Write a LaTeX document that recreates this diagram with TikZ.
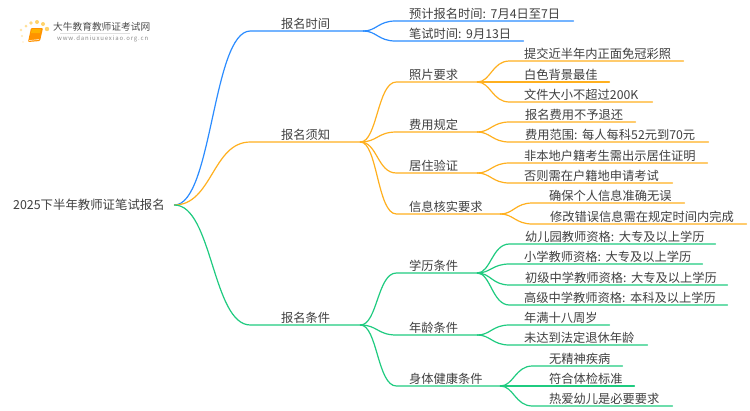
\documentclass[tikz,border=0pt]{standalone}
\usepackage{fontspec}
\setmainfont{Noto Sans CJK SC}
\usetikzlibrary{calc}
\definecolor{cblue}{HTML}{2B8CFF}
\definecolor{corange}{HTML}{FFB01F}
\definecolor{cgreen}{HTML}{1FCB80}
\definecolor{ctext}{HTML}{404040}
\definecolor{cdot}{HTML}{FFD36B}
\newcommand\tgap{\kern-1.5pt}
\tikzset{
  lf/.style={anchor=south west,inner sep=0pt,align=left,text height=11pt,text depth=2.5pt,font=\fontsize{12.25}{14}\selectfont,text=ctext},
  rootnode/.style={anchor=west,inner sep=0pt,align=left,font=\fontsize{12.4}{14}\selectfont,text=ctext},
  lnblue/.style={draw=cblue,line width=1.2pt},
  lnorange/.style={draw=corange,line width=1.2pt},
  lngreen/.style={draw=cgreen,line width=1.2pt},
  logodot/.style={fill=cdot,draw=none}
}
% from, to, style, run of the curve, first control, second control
\newcommand\conn[6]{\draw[#3,line cap=round,line join=round] let \p1=(#1), \p2=(#2.south west) in
  (\p1) .. controls ({\x1+#5pt},\y1) and ({\x1+#6pt},\y2) .. ({\x1+#4pt},\y2) -- (\p2) -- (#2.south east);}
\begin{document}
\begin{tikzpicture}[x=1pt,y=-1pt]
\useasboundingbox (0,0) rectangle (750,410);
\fill[white] (0,0) rectangle (750,410);
% logo
\foreach \px/\py/\pr/\po in {23/42/0.9/0.35,22/36/1.1/0.5,21/30/1.3/0.6,26/26/1.5/0.7,31/23/1.8/0.85,37/22/2/1,43/24/2/1,47/29/2.2/1}
  \fill[logodot,opacity=\po] (\px,\py) circle (\pr);
\fill[orange!85!yellow,rounded corners=1pt] (31,28) -- (43,28) -- (40,41) -- (28,42) -- cycle;
\fill[orange!60!yellow] (32,29) -- (41,29) -- (40,33) -- (31,33) -- cycle;
\draw[white,line width=0.5pt] (29,40.5) -- (39,39.5);
\node[inner sep=0pt,anchor=west,text=black!70,font=\fontsize{9.7}{11}\selectfont] (logotitle) at (53,27) {大牛教育教师证考试网};
\node[inner sep=0pt,anchor=west,text=black!45,font=\fontsize{6}{7}\selectfont\addfontfeature{LetterSpace=14}] (logourl) at (57,39) {www.daniuxuexiao.org.cn};
\draw[black!12,line width=0.5pt] (60,33.5) -- (130,33.5);
% root
\node[rootnode,text width=161pt] (root) at (13,205) {2025下半年教师证笔试报名};
% level 1
\node[lf,text width=82pt] (a) at (281,31) {报名时间};
\node[lf,text width=79pt] (b) at (281,142) {报名须知};
\node[lf,text width=79pt] (c) at (281,325) {报名条件};
% level 2
\node[lf,text width=164pt] (a1) at (409,21) {预计报名时间: \tgap 7月4日至7日};
\node[lf,text width=114pt] (a2) at (409,41) {笔试时间: \tgap 9月13日};
\node[lf,text width=68pt] (b1) at (409,82) {照片要求};
\node[lf,text width=68pt] (b2) at (409,132) {费用规定};
\node[lf,text width=68pt] (b3) at (409,173) {居住验证};
\node[lf,text width=91pt] (b4) at (409,214) {信息核实要求};
\node[lf,text width=68pt] (c1) at (409,273) {学历条件};
\node[lf,text width=68pt] (c2) at (409,335) {年龄条件};
\node[lf,text width=91pt] (c3) at (409,386) {身体健康条件};
% leaves
\node[lf,text width=159pt] (l1) at (524,61) {提交近半年内正面免冠彩照};
\node[lf,text width=85pt] (l2) at (524,82) {白色背景最佳};
\node[lf,text width=128pt] (l3) at (524,102) {文件大小不超过200K};
\node[lf,text width=110pt] (l4) at (525,122) {报名费用不予退还};
\node[lf,text width=183pt] (l5) at (525,142) {费用范围: \tgap 每人每科52元到70元};
\node[lf,text width=183pt] (l6) at (524,163) {非本地户籍考生需出示居住证明};
\node[lf,text width=148pt] (l7) at (524,183) {否则需在户籍地申请考试};
\node[lf,text width=135pt] (l8) at (549,203) {确保个人信息准确无误};
\node[lf,text width=196pt] (l9) at (550,224) {修改错误信息需在规定时间内完成};
\node[lf,text width=190pt] (m1) at (525,244) {幼儿园教师资格: \tgap 大专及以上学历};
\node[lf,text width=178pt] (m2) at (524,264) {小学教师资格: \tgap 大专及以上学历};
\node[lf,text width=202pt] (m3) at (525,285) {初级中学教师资格: \tgap 大专及以上学历};
\node[lf,text width=203pt] (m4) at (524,305) {高级中学教师资格: \tgap 本科及以上学历};
\node[lf,text width=85pt] (m5) at (524,325) {年满十八周岁};
\node[lf,text width=123pt] (m6) at (524,345) {未达到法定退休年龄};
\node[lf,text width=73pt] (m7) at (549,366) {无精神疾病};
\node[lf,text width=85pt] (m8) at (549,386) {符合体检标准};
\node[lf,text width=123pt] (m9) at (549,406) {热爱幼儿是必要要求};
% connectors
\conn{root.east}{a}{lnblue}{76}{38}{38}
\conn{root.east}{b}{lnorange}{76}{38}{38}
\conn{root.east}{c}{lngreen}{76}{38}{38}
\conn{a.south east}{a1}{lnblue}{32}{13}{15}
\conn{a.south east}{a2}{lnblue}{32}{13}{15}
\foreach \t in {b1,b2,b3,b4}{\conn{b.south east}{\t}{lnorange}{36}{17}{17}}
\foreach \t in {c1,c2,c3}{\conn{c.south east}{\t}{lngreen}{36}{17}{17}}
\foreach \t in {l1,l2,l3}{\conn{b1.south east}{\t}{lnorange}{32}{13}{15}}
\foreach \t in {l4,l5}{\conn{b2.south east}{\t}{lnorange}{32}{13}{15}}
\foreach \t in {l6,l7}{\conn{b3.south east}{\t}{lnorange}{32}{13}{15}}
\foreach \t in {l8,l9}{\conn{b4.south east}{\t}{lnorange}{32}{13}{15}}
\foreach \t in {m1,m2,m3,m4}{\conn{c1.south east}{\t}{lngreen}{32}{13}{15}}
\foreach \t in {m5,m6}{\conn{c2.south east}{\t}{lngreen}{32}{13}{15}}
\foreach \t in {m7,m8,m9}{\conn{c3.south east}{\t}{lngreen}{32}{13}{15}}
\end{tikzpicture}
\end{document}
